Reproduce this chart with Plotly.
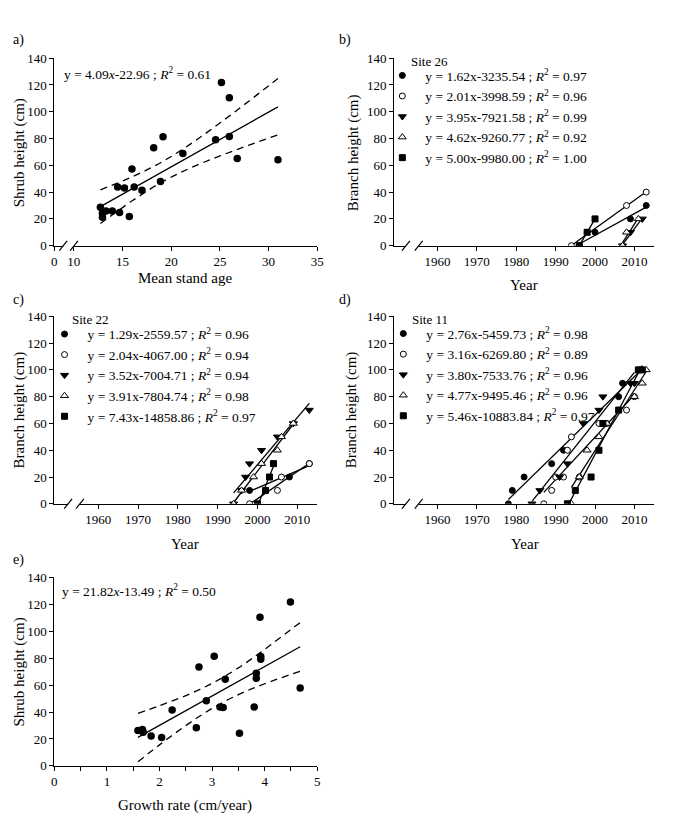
import numpy as np
import plotly.graph_objects as go

FONT = "Liberation Serif"
# the page body keeps its default 8px margin, so the figure is 16px smaller than the window
OFF = 8
W, H = 676 - 2 * OFF, 828 - 2 * OFF

# ---------------- data ----------------
# a) shrub height vs mean stand age
a_age = [12.73, 12.94, 12.94, 13.3, 13.95, 14.5, 14.7, 15.2, 15.7, 15.97, 16.2,
         17.0, 18.2, 18.9, 19.16, 21.2, 24.56, 25.16, 25.97, 25.97, 26.78, 30.96]
a_height = [28.6, 24.2, 21.3, 25.9, 25.9, 43.8, 24.7, 43.0, 21.8, 57.2, 43.8,
            41.3, 73.1, 47.9, 81.3, 68.8, 79.0, 121.9, 110.4, 81.5, 65.1, 64.1]
a_slope, a_intercept = 4.09, -22.96
a_band_x = [12.73, 16, 19, 22, 25, 28, 30.96]
a_band_upper = [41.7, 51.4, 62.3, 76.0, 91.6, 108.1, 124.8]
a_band_lower = [16.5, 33.5, 47.3, 58.1, 67.0, 75.1, 82.8]

# e) shrub height vs growth rate
e_rate = [1.59, 1.675, 1.69, 1.84, 2.04, 2.24, 2.70, 2.75, 2.89, 3.04, 3.15,
          3.21, 3.25, 3.52, 3.80, 3.84, 3.84, 3.91, 3.925, 3.925, 4.49, 4.675]
e_height = [26.3, 27.0, 25.0, 22.1, 21.1, 41.6, 28.4, 73.4, 48.4, 81.4, 43.8,
            43.3, 64.4, 24.3, 43.8, 68.8, 65.1, 110.4, 81.2, 79.2, 121.8, 57.9]
e_slope, e_intercept = 21.82, -13.49
e_band_x = [1.59, 2.0, 2.5, 3.0, 3.5, 4.0, 4.675]
e_band_upper = [39.0, 44.7, 52.2, 61.3, 72.8, 86.6, 106.5]
e_band_lower = [3.0, 15.6, 29.9, 42.7, 52.9, 61.0, 70.3]

# b) Site 26 branches (year, height)
b_years = [[1996, 2000, 2009, 2013], [1994, 2008, 2013], [2007, 2009, 2012],
           [2007, 2008, 2011], [1996, 1998, 2000]]
b_heights = [[0, 10, 20, 30], [0, 30, 40], [0, 10, 20], [0, 10, 20], [0, 10, 20]]
b_labels = ["y = 1.62x-3235.54 ; <i>R</i><sup>2</sup> = 0.97",
            "y = 2.01x-3998.59 ; <i>R</i><sup>2</sup> = 0.96",
            "y = 3.95x-7921.58 ; <i>R</i><sup>2</sup> = 0.99",
            "y = 4.62x-9260.77 ; <i>R</i><sup>2</sup> = 0.92",
            "y = 5.00x-9980.00 ; <i>R</i><sup>2</sup> = 1.00"]

# c) Site 22 branches
c_years = [[1998, 2008, 2013], [1998, 2005, 2006, 2013],
           [1994, 1996, 1997, 1998, 2001, 2005, 2009, 2013],
           [1994, 1996, 1999, 2001, 2005, 2006, 2009], [2000, 2002, 2003, 2004]]
c_heights = [[10, 20, 30], [0, 10, 20, 30], [0, 10, 20, 30, 40, 50, 60, 70],
             [0, 10, 20, 30, 40, 50, 60], [0, 10, 20, 30]]
c_labels = ["y = 1.29x-2559.57 ; <i>R</i><sup>2</sup> = 0.96",
            "y = 2.04x-4067.00 ; <i>R</i><sup>2</sup> = 0.94",
            "y = 3.52x-7004.71 ; <i>R</i><sup>2</sup> = 0.94",
            "y = 3.91x-7804.74 ; <i>R</i><sup>2</sup> = 0.98",
            "y = 7.43x-14858.86 ; <i>R</i><sup>2</sup> = 0.97"]

# d) Site 11 branches
d_years = [[1978, 1979, 1982, 1989, 1992, 2006, 2007, 2011],
           [1987, 1989, 1990, 1992, 1993, 1994, 1996, 2001, 2003, 2008, 2010],
           [1984, 1986, 1991, 1993, 1997, 2001, 2002, 2009, 2010],
           [1994, 1996, 1998, 2001, 2003, 2010, 2012, 2013],
           [1993, 1995, 1999, 2001, 2002, 2006, 2011, 2012]]
d_heights = [[0, 10, 20, 30, 40, 80, 90, 100],
             [0, 10, 20, 20, 40, 50, 20, 60, 60, 70, 80],
             [0, 10, 20, 30, 60, 70, 80, 90, 90],
             [0, 20, 40, 50, 60, 80, 90, 100],
             [0, 10, 20, 40, 60, 70, 100, 100]]
d_labels = ["y = 2.76x-5459.73 ; <i>R</i><sup>2</sup> = 0.98",
            "y = 3.16x-6269.80 ; <i>R</i><sup>2</sup> = 0.89",
            "y = 3.80x-7533.76 ; <i>R</i><sup>2</sup> = 0.96",
            "y = 4.77x-9495.46 ; <i>R</i><sup>2</sup> = 0.96",
            "y = 5.46x-10883.84 ; <i>R</i><sup>2</sup> = 0.97"]

y_ticks = [0, 20, 40, 60, 80, 100, 120, 140]
year_ticks = [1960, 1970, 1980, 1990, 2000, 2010]
age_tickvals = [8, 10, 15, 20, 25, 30, 35]
age_ticktext = ["0", "10", "15", "20", "25", "30", "35"]

# ---------------- styles ----------------
symbols = [dict(symbol="circle", color="black", size=6, line=dict(color="black", width=1)),
           dict(symbol="circle", color="white", size=6, line=dict(color="black", width=1)),
           dict(symbol="triangle-down", color="black", size=7, line=dict(color="black", width=1)),
           dict(symbol="triangle-up", color="white", size=7, line=dict(color="black", width=1)),
           dict(symbol="square", color="black", size=6, line=dict(color="black", width=1))]


def X(px):
    return (px - OFF) / W


def Y(py):
    return 1 - (py - OFF) / H


def xd(p0, p1):
    return [X(p0), X(p1)]


def yd(top, bottom):
    return [Y(bottom), Y(top)]


fig = go.Figure()
dash_line = dict(color="black", width=1.3, dash="7px,5px", shape="spline")
solid_line = dict(color="black", width=1.3)

# ---- panel a ----
ax = np.array(a_age)
xr = np.array([ax.min(), ax.max()])
fig.add_trace(go.Scatter(x=a_band_x, y=a_band_upper, mode="lines", line=dash_line, showlegend=False, xaxis="x", yaxis="y"))
fig.add_trace(go.Scatter(x=a_band_x, y=a_band_lower, mode="lines", line=dash_line, showlegend=False, xaxis="x", yaxis="y"))
fig.add_trace(go.Scatter(x=xr, y=a_slope * xr + a_intercept, mode="lines", line=solid_line, showlegend=False, xaxis="x", yaxis="y"))
fig.add_trace(go.Scatter(x=a_age, y=a_height, mode="markers", marker=dict(color="black", size=7.5),
                         showlegend=False, xaxis="x", yaxis="y"))

# ---- panel e ----
ex = np.array(e_rate)
xr = np.array([ex.min(), ex.max()])
fig.add_trace(go.Scatter(x=e_band_x, y=e_band_upper, mode="lines", line=dash_line, showlegend=False, xaxis="x5", yaxis="y5"))
fig.add_trace(go.Scatter(x=e_band_x, y=e_band_lower, mode="lines", line=dash_line, showlegend=False, xaxis="x5", yaxis="y5"))
fig.add_trace(go.Scatter(x=xr, y=e_slope * xr + e_intercept, mode="lines", line=solid_line, showlegend=False, xaxis="x5", yaxis="y5"))
fig.add_trace(go.Scatter(x=e_rate, y=e_height, mode="markers", marker=dict(color="black", size=7.5),
                         showlegend=False, xaxis="x5", yaxis="y5"))


# ---- branch panels ----
def add_branch_panel(years, heights, labels, xa, ya, legend_name):
    for yr, ht in zip(years, heights):
        xs = np.array(yr, dtype=float)
        m, b = np.polyfit(xs, np.array(ht, dtype=float), 1)
        xr = np.array([xs.min(), xs.max()])
        fig.add_trace(go.Scatter(x=xr, y=m * xr + b, mode="lines", line=solid_line,
                                 showlegend=False, xaxis=xa, yaxis=ya, hoverinfo="skip"))
    for i, (yr, ht) in enumerate(zip(years, heights)):
        fig.add_trace(go.Scatter(x=yr, y=ht, mode="markers", marker=symbols[i], name=labels[i],
                                 legend=legend_name, legendgroup=f"{legend_name}{i}",
                                 showlegend=True, xaxis=xa, yaxis=ya))


add_branch_panel(b_years, b_heights, b_labels, "x2", "y2", "legend")
add_branch_panel(c_years, c_heights, c_labels, "x3", "y3", "legend2")
add_branch_panel(d_years, d_heights, d_labels, "x4", "y4", "legend3")

# ---------------- axes ----------------
tickfont = dict(family=FONT, size=13, color="black")
common = dict(showline=True, linecolor="black", linewidth=1, ticks="outside", ticklen=4,
              tickcolor="black", tickwidth=1, showgrid=False, zeroline=False, tickfont=tickfont)
yax = dict(common, range=[0, 140], tickvals=y_ticks)
yearax = dict(common, range=[1949, 2015], tickvals=year_ticks)

left, right = xd(52, 319), xd(397, 661)
r1, r2, r3 = yd(52, 243), yd(315, 506), yd(581, 773)

legend_common = dict(font=dict(family=FONT, size=13.5, color="black"), bgcolor="rgba(0,0,0,0)",
                     xanchor="left", yanchor="top", tracegroupgap=0, traceorder="grouped",
                     itemwidth=36, itemclick=False, itemdoubleclick=False)

fig.update_layout(
    width=W, height=H, margin=dict(l=0, r=0, t=0, b=0),
    paper_bgcolor="white", plot_bgcolor="white",
    font=dict(family=FONT, size=13, color="black"),
    xaxis=dict(common, domain=left, anchor="y", range=[8, 35], tickvals=age_tickvals, ticktext=age_ticktext),
    yaxis=dict(yax, domain=r1, anchor="x"),
    xaxis2=dict(yearax, domain=right, anchor="y2"),
    yaxis2=dict(yax, domain=r1, anchor="x2"),
    xaxis3=dict(yearax, domain=left, anchor="y3"),
    yaxis3=dict(yax, domain=r2, anchor="x3"),
    xaxis4=dict(yearax, domain=right, anchor="y4"),
    yaxis4=dict(yax, domain=r2, anchor="x4"),
    xaxis5=dict(common, domain=left, anchor="y5", range=[0, 5], dtick=1,
                minor=dict(dtick=0.5, ticks="outside", ticklen=4, tickcolor="black")),
    yaxis5=dict(yax, domain=r3, anchor="x5"),
    legend=dict(legend_common, x=X(382), y=Y(54)),
    legend2=dict(legend_common, x=X(39), y=Y(317.5)),
    legend3=dict(legend_common, x=X(383), y=Y(317)),
)

# ---------------- text ----------------
ann = []


def txt(x, y, s, size=13, angle=0, xanchor="center"):
    ann.append(dict(x=X(x), y=Y(y), xref="paper", yref="paper", text=s, showarrow=False,
                    font=dict(family=FONT, size=size, color="black"), textangle=angle,
                    xanchor=xanchor, yanchor="middle"))


for lab, x, y in [("a)", 8, 33), ("b)", 339, 33), ("c)", 8, 298), ("d)", 339, 298), ("e)", 8, 563)]:
    txt(x, y, lab, 14, xanchor="left")

txt(185, 276, "Mean stand age", 15)
txt(529, 283, "Year", 15)
txt(185, 547, "Year", 15)
txt(530, 547, "Year", 15)
txt(185, 813, "Growth rate (cm/year)", 15)
txt(17, 148, "Shrub height (cm)", 15, -90)
txt(356, 148, "Branch height (cm)", 15, -90)
txt(17, 410, "Branch height (cm)", 15, -90)
txt(354, 410, "Branch height (cm)", 15, -90)
txt(17, 677, "Shrub height (cm)", 15, -90)

txt(60, 68, "y = 4.09<i>x</i>-22.96 ; <i>R</i><sup>2</sup> = 0.61", 13.5, xanchor="left")
txt(58, 594, "y = 21.82<i>x</i>-13.49 ; <i>R</i><sup>2</sup> = 0.50", 13.5, xanchor="left")
txt(412, 55.5, "Site 26", 13, xanchor="left")
txt(68, 318.5, "Site 22", 13, xanchor="left")
txt(413, 318, "Site 11", 13, xanchor="left")

fig.update_layout(annotations=ann)

# ---------------- axis break marks ----------------
shapes = []


def axis_break(xref, yref, c1, c2, width_px, height_px):
    dx = 4 / width_px
    dy = 5 / height_px
    shapes.append(dict(type="line", xref=xref, yref=yref, x0=c1, x1=c2, y0=0, y1=0,
                       line=dict(color="white", width=3), layer="above"))
    for c in (c1, c2):
        shapes.append(dict(type="line", xref=xref, yref=yref, x0=c - dx, x1=c + dx, y0=-dy, y1=dy,
                           line=dict(color="black", width=1.2), layer="above"))


axis_break("x domain", "y domain", 9 / 267, 20 / 267, 267, 191)
axis_break("x2 domain", "y2 domain", 12 / 264, 25 / 264, 264, 191)
axis_break("x3 domain", "y3 domain", 14 / 267, 26 / 267, 267, 191)
axis_break("x4 domain", "y4 domain", 12 / 264, 25 / 264, 264, 191)
fig.update_layout(shapes=shapes)

fig.write_html("out.html", config={"displayModeBar": False})
